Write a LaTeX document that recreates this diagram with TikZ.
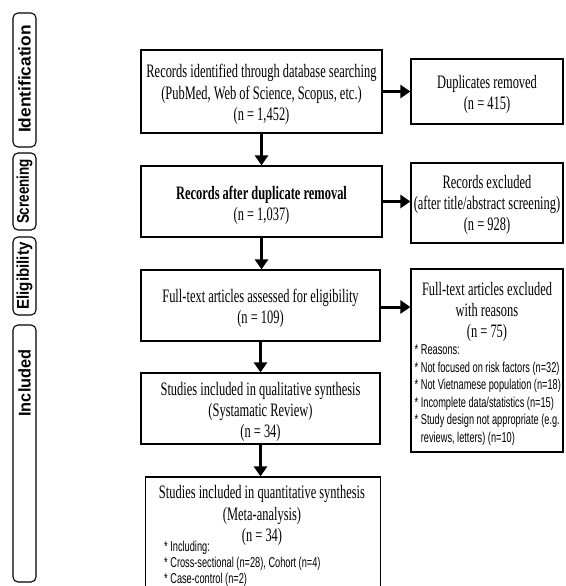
\documentclass[tikz,border=0pt]{standalone}
\usepackage{fontspec}
\usetikzlibrary{arrows.meta}
\newfontfamily\mainser[FakeStretch=0.655]{Liberation Serif}
\newfontfamily\smallsans[FakeStretch=0.645]{Liberation Sans}
\newfontfamily\labsans{Liberation Sans}
\begin{document}
\begin{tikzpicture}[x=1pt,y=-1pt,
  box/.style={draw, line width=1.2pt, rectangle, inner sep=0pt},
  txt/.style={align=center, inner sep=0pt, font=\mainser\fontsize{19}{21.3}\selectfont},
  stage/.style={draw, line width=1.1pt, rounded corners=5pt, inner sep=0pt},
  stagetxt/.style={rotate=90, inner sep=0pt, font=\labsans\bfseries\fontsize{17}{18}\selectfont},
  flow/.style={line width=3pt, -{Triangle[length=10pt,width=13pt]}},
  lst/.style={font=\smallsans\fontsize{14.3}{17.6}\selectfont, align=left, anchor=north west, inner sep=0pt}
]
\useasboundingbox (0,0) rectangle (565,586);
\clip (0,0) rectangle (565,586);
\fill[white] (0,0) rectangle (565,586);

% stage labels
\node[stage, minimum width=23pt, minimum height=134pt] (sid) at (24.5,80) {};
\node[stagetxt] (sidt) at (24.5,79) {\scalebox{1.02}[1]{Identification}};
\node[stage, minimum width=23pt, minimum height=77pt] (sscr) at (24.5,191.5) {};
\node[stagetxt] (sscrt) at (24.5,191.5) {\scalebox{0.79}[1]{Screening}};
\node[stage, minimum width=23pt, minimum height=78pt] (selig) at (24.5,276) {};
\node[stagetxt] (seligt) at (24.5,276) {\scalebox{0.89}[1]{Eligibility}};
\node[stage, minimum width=23pt, minimum height=257pt] (sinc) at (24.5,453.5) {};
\node[stagetxt] (sinct) at (24.5,383) {\scalebox{0.96}[1]{Included}};

% main column
\node[box, minimum width=241pt, minimum height=83pt] (b1) at (261.5,91.5) {};
\node[txt] (b1t) at ([yshift=-3pt]b1.center)
  {Records identified through database searching\\(PubMed, Web of Science, Scopus, etc.)\\(n = 1,452)};
\node[box, minimum width=241pt, minimum height=71pt] (b2) at (261.5,201.5) {};
\node[txt] (b2t) at ([yshift=-4pt]b2.center)
  {\bfseries Records after duplicate removal\\(n = 1,037)};
\node[box, minimum width=239pt, minimum height=71pt] (b3) at (260.5,305.5) {};
\node[txt] (b3t) at ([yshift=-3pt]b3.center)
  {Full-text articles assessed for eligibility\\(n = 109)};
\node[box, minimum width=239pt, minimum height=71pt] (b4) at (260.5,408.5) {};
\node[txt] (b4t) at ([yshift=-3.5pt]b4.center)
  {Studies included in qualitative synthesis\\(Systamatic Review)\\(n = 34)};
\node[box, minimum width=235pt, minimum height=123pt] (b5) at (263,538.5) {};
\node[txt] (b5t) at (262,515.5)
  {Studies included in quantitative synthesis\\(Meta-analysis)\\(n = 34)};
\node[lst, font=\smallsans\fontsize{14.3}{16}\selectfont] (b5l) at (164,540.5)
  {* Including:\\* Cross-sectional (n=28), Cohort (n=4)\\* Case-control (n=2)};

% right column
\node[box, minimum width=152pt, minimum height=65pt] (r1) at (487,91.5) {};
\node[txt] (r1t) at ([yshift=-3pt]r1.center) {Duplicates removed\\(n = 415)};
\node[box, minimum width=152pt, minimum height=80pt] (r2) at (487,203) {};
\node[txt] (r2t) at ([yshift=-2pt]r2.center)
  {Records excluded\\(after title/abstract screening)\\(n = 928)};
\node[box, minimum width=152pt, minimum height=183pt] (r3) at (487,360.5) {};
\node[txt] (r3t) at (487,312)
  {Full-text articles excluded\\with reasons\\(n = 75)};
\node[lst] (r3l) at (414.5,344.5)
  {* Reasons:\\* Not focused on risk factors (n=32)\\* Not Vietnamese population (n=18)\\* Incomplete data/statistics (n=15)\\* Study design not appropriate (e.g.\\\phantom{* }reviews, letters) (n=10)};

% connectors
\draw[flow] (b1.south) -- (b2.north);
\draw[flow] (b2.south) -- (b3.north -| b2.south);
\draw[flow] (b3.south) -- (b4.north);
\draw[flow] (b4.south) -- (b4.south |- b5.north);
\draw[flow] (b1.east) -- (r1.west);
\draw[flow] (b2.east) -- (b2.east -| r2.west);
\draw[flow] ([yshift=-1.5pt]b3.east) -- ([yshift=-1.5pt]b3.east -| r3.west);
\end{tikzpicture}
\end{document}
